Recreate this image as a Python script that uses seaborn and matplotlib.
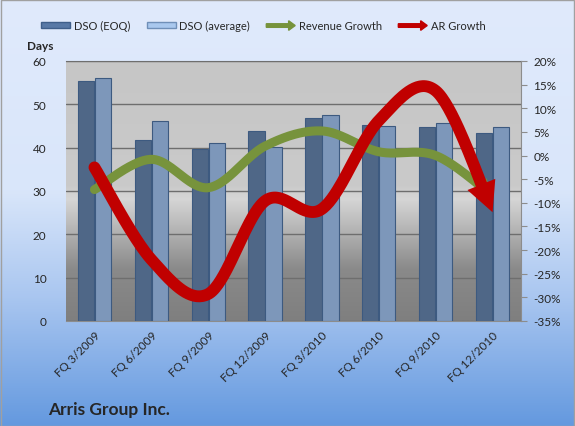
import numpy as np
import pandas as pd
import matplotlib
matplotlib.use("Agg")
import matplotlib.pyplot as plt
import seaborn as sns
from matplotlib.patches import FancyArrow, Rectangle, Polygon
from matplotlib.legend_handler import HandlerPatch
from matplotlib.colors import LinearSegmentedColormap

categories = ["FQ 3/2009", "FQ 6/2009", "FQ 9/2009", "FQ 12/2009",
              "FQ 3/2010", "FQ 6/2010", "FQ 9/2010", "FQ 12/2010"]
dso_eoq = [55.3, 41.8, 39.7, 43.9, 46.8, 45.2, 44.8, 43.3]
dso_avg = [56.0, 46.2, 41.0, 40.2, 47.5, 44.9, 45.7, 44.8]
revenue_growth = [-7.2, -0.8, -6.8, 2.0, 5.2, 0.8, 0.0, -8.5]
ar_growth = [-2.5, -22.0, -29.3, -9.6, -11.3, 7.4, 13.7, -12.0]
left_ticks = [0, 10, 20, 30, 40, 50, 60]
right_ticks = list(range(-35, 25, 5))

sns.set_style("white")
plt.rcParams['font.family'] = ['Lato', 'DejaVu Sans']

W, H = 575, 427
fig = plt.figure(figsize=(W / 100, H / 100), dpi=100)

# figure background gradient
bg = fig.add_axes([0, 0, 1, 1], zorder=-10)
cmap_bg = LinearSegmentedColormap.from_list(
    "bg", [(0, "#e0eafc"), (0.45, "#d9e6fa"), (0.7, "#a9c6f0"), (1.0, "#6499df")])
grad = np.linspace(0, 1, 256).reshape(-1, 1)
bg.imshow(grad, aspect="auto", cmap=cmap_bg, extent=[0, 1, 0, 1], origin="upper")
bg.set_axis_off()
fig.patches.append(Rectangle((0.001, 0.001), 0.997, 0.997, transform=fig.transFigure,
                             fill=False, edgecolor="#a0a0a0", lw=1))

ax = fig.add_axes([66 / W, 1 - 322 / H, (521 - 66) / W, (322 - 62) / H])
ax.patch.set_alpha(0)

# plot-area gradient
cmap_pa = LinearSegmentedColormap.from_list(
    "pa", [(0, "#c6c6c6"), (0.48, "#cacaca"), (0.53, "#d6d6d6"), (0.8, "#8a8a8a"), (1.0, "#7f7f7f")])
ax.imshow(grad, aspect="auto", cmap=cmap_pa, extent=[-0.5, 7.5, 0, 60], origin="upper", zorder=0)

df = pd.DataFrame({
    "cat": categories * 2,
    "val": dso_eoq + dso_avg,
    "series": ["DSO (EOQ)"] * 8 + ["DSO (average)"] * 8,
})
sns.barplot(data=df, x="cat", y="val", hue="series", ax=ax, width=0.6, gap=0.05,
            palette=["#466690", "#7396c4"], edgecolor="#3d5a80", linewidth=0.8,
            legend=False, zorder=3)
ax.set_xlim(-0.5, 7.5)
ax.set_ylim(0, 60)
ax.set_yticks(left_ticks)
ax.yaxis.grid(True, color="#6e6e6e", lw=1)
ax.set_axisbelow(False)
for l in ax.get_ygridlines():
    l.set_zorder(1)
ax.set_xlabel("")
ax.set_ylabel("")
ax.set_xticks(range(8))
ax.set_xticklabels(categories, rotation=45, ha="right", rotation_mode="anchor", fontsize=8.5)
ax.set_xticks(np.arange(-0.5, 8, 1), minor=True)
ax.tick_params(axis="x", which="major", length=0, pad=6)
ax.tick_params(axis="x", which="minor", length=4, color="#8c8c8c", direction="out")
ax.tick_params(axis="y", length=0, labelsize=8.5, pad=14)
for s in ["left", "top", "bottom", "right"]:
    ax.spines[s].set_visible(False)
ax.spines["bottom"].set_visible(True)
ax.spines["bottom"].set_color("#8c8c8c")
ax.spines["top"].set_visible(True)
ax.spines["top"].set_color("#808080")

ax2 = ax.twinx()
ax2.set_ylim(-35, 20)
ax2.set_xlim(-0.5, 7.5)
ax2.set_yticks(right_ticks)
ax2.set_yticklabels([f"{t}%" for t in right_ticks], fontsize=8.5)
ax2.tick_params(axis="y", length=4, color="#8c8c8c", direction="out", pad=5)
for s in ["left", "top", "bottom"]:
    ax2.spines[s].set_visible(False)
ax2.spines["right"].set_color("#8c8c8c")


def smooth(xs, ys, n=40):
    xs = np.asarray(xs, float)
    ys = np.asarray(ys, float)
    px, py = [], []
    m = len(xs)
    for i in range(m - 1):
        x0, y0 = xs[max(i - 1, 0)], ys[max(i - 1, 0)]
        x1, y1 = xs[i], ys[i]
        x2, y2 = xs[i + 1], ys[i + 1]
        x3, y3 = xs[min(i + 2, m - 1)], ys[min(i + 2, m - 1)]
        c1 = (x1 + (x2 - x0) / 6, y1 + (y2 - y0) / 6)
        c2 = (x2 - (x3 - x1) / 6, y2 - (y3 - y1) / 6)
        t = np.linspace(0, 1, n, endpoint=(i == m - 2))
        bx = (1 - t) ** 3 * x1 + 3 * (1 - t) ** 2 * t * c1[0] + 3 * (1 - t) * t ** 2 * c2[0] + t ** 3 * x2
        by = (1 - t) ** 3 * y1 + 3 * (1 - t) ** 2 * t * c1[1] + 3 * (1 - t) * t ** 2 * c2[1] + t ** 3 * y2
        px.extend(bx)
        py.extend(by)
    return np.column_stack([px, py])


def draw_arrow(axis, xs, ys, color, lw, head_len, head_w, z):
    verts = smooth(xs, ys)
    disp = axis.transData.transform(verts)
    seg = np.sqrt((np.diff(disp, axis=0) ** 2).sum(axis=1))
    from_end = np.concatenate([np.cumsum(seg[::-1])[::-1], [0]])
    keep = from_end >= head_len * 0.8
    tip = disp[-1]
    base_idx = np.argmax(from_end < head_len)
    base = disp[base_idx]
    d = tip - base
    d = d / np.hypot(*d)
    base = tip - d * head_len
    perp = np.array([-d[1], d[0]])
    head = np.array([tip, base + perp * head_w / 2, base - perp * head_w / 2])
    inv = axis.transData.inverted()
    line_pts = inv.transform(disp[keep])
    axis.plot(line_pts[:, 0], line_pts[:, 1], color=color, lw=lw,
              solid_capstyle="round", solid_joinstyle="round", zorder=z)
    axis.add_patch(Polygon(inv.transform(head), closed=True, facecolor=color,
                           edgecolor="none", zorder=z))


xpos = np.arange(8)
draw_arrow(ax2, xpos, revenue_growth, "#77933c", 6.5, 16, 20, 5)
draw_arrow(ax2, xpos, ar_growth, "#c00000", 8.5, 30, 30, 6)


class HandlerArrow(HandlerPatch):
    def create_artists(self, legend, orig_handle, xdescent, ydescent, width, height, fontsize, trans):
        a = FancyArrow(0, height / 2, width, 0, width=height * 0.6, head_width=height * 1.6,
                       head_length=height * 1.1, length_includes_head=True,
                       color=orig_handle.get_facecolor())
        a.set_transform(trans)
        return [a]


h1 = Rectangle((0, 0), 1, 1, facecolor="#5879a6", edgecolor="#3f5f8a")
h2 = Rectangle((0, 0), 1, 1, facecolor="#a9c8ee", edgecolor="#6f8fb8")
h3 = FancyArrow(0, 0, 1, 0, color="#77933c")
h4 = FancyArrow(0, 0, 1, 0, color="#c00000")
leg = fig.legend([h1, h2, h3, h4], ["DSO (EOQ)", "DSO (average)", "Revenue Growth", "AR Growth"],
                 handler_map={FancyArrow: HandlerArrow()}, loc="center",
                 bbox_to_anchor=(0.458, 1 - 26 / H), ncol=4, frameon=False, fontsize=8,
                 handlelength=2.6, handleheight=0.45, columnspacing=1.5, handletextpad=0.3)

fig.text(27 / W, 1 - 47 / H, "Days", fontsize=8.5, fontweight="bold", ha="left", va="center")
fig.text(48 / W, 1 - 410 / H, "Arris Group Inc.", fontsize=12.5, fontweight="bold",
         ha="left", va="center")

fig.savefig("out.png", dpi=100)
